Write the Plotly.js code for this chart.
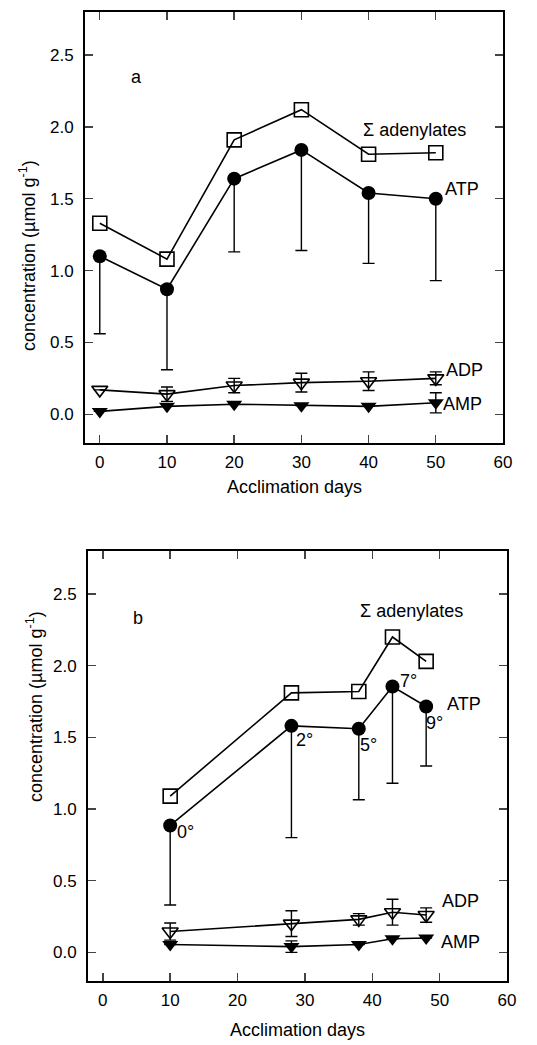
<!DOCTYPE html>
<html>
<head>
<meta charset="utf-8">
<script src="https://cdn.plot.ly/plotly-3.0.1.min.js"></script>
<style>html,body{margin:0;padding:0;background:#fff;}#chart{width:537px;height:1045px;}</style>
</head>
<body>
<div id="chart"></div>
<script>
// Panel a
const daysA = [0, 10, 20, 30, 40, 50];
const sumA = [1.33, 1.08, 1.91, 2.12, 1.81, 1.82];
const atpA = [1.10, 0.87, 1.64, 1.84, 1.54, 1.50];
const atpErrA = [0.54, 0.56, 0.51, 0.70, 0.49, 0.57];
const adpA = [0.17, 0.14, 0.20, 0.22, 0.23, 0.25];
const adpErrA = [0, 0.05, 0.05, 0.065, 0.065, 0.045];
const ampA = [0.02, 0.055, 0.07, 0.06, 0.055, 0.08];
const ampErrA = [0, 0, 0, 0, 0, 0.07];

// Panel b
const daysB = [10, 28, 38, 43, 48];
const sumB = [1.09, 1.81, 1.82, 2.20, 2.03];
const atpB = [0.885, 1.58, 1.56, 1.855, 1.715];
const atpErrB = [0.555, 0.78, 0.495, 0.675, 0.415];
const adpB = [0.145, 0.20, 0.23, 0.28, 0.26];
const adpErrB = [0.06, 0.09, 0.04, 0.09, 0.05];
const ampB = [0.055, 0.04, 0.055, 0.095, 0.10];
const ampErrB = [0, 0.04, 0, 0, 0];
const tempLabels = ['0°', '2°', '5°', '7°', '9°'];

const xTicks = [0, 10, 20, 30, 40, 50, 60];
const yTicks = [0.0, 0.5, 1.0, 1.5, 2.0, 2.5];

const lineStyle = {color: '#000', width: 1.6};

function series(x, sum, atp, atpErr, adp, adpErr, amp, ampErr, xa, ya) {
  return [
    {x: x, y: sum, xaxis: xa, yaxis: ya, mode: 'lines+markers', line: lineStyle,
     marker: {symbol: 'square-open', size: 14, color: '#000', line: {width: 1.6}}},
    {x: x, y: atp, xaxis: xa, yaxis: ya, mode: 'lines+markers', line: lineStyle,
     marker: {symbol: 'circle', size: 14, color: '#000'},
     error_y: {type: 'data', symmetric: false, array: x.map(() => 0), arrayminus: atpErr,
               color: '#000', thickness: 1.4, width: 6}},
    {x: x, y: adp, xaxis: xa, yaxis: ya, mode: 'lines+markers', line: lineStyle,
     marker: {symbol: 'triangle-down-open', size: 14, color: '#000', line: {width: 1.6}},
     error_y: {type: 'data', array: adpErr, color: '#000', thickness: 1.4, width: 6}},
    {x: x, y: amp, xaxis: xa, yaxis: ya, mode: 'lines+markers', line: lineStyle,
     marker: {symbol: 'triangle-down', size: 14, color: '#000'},
     error_y: {type: 'data', array: ampErr, color: '#000', thickness: 1.4, width: 6}}
  ];
}

const data = [
  ...series(daysA, sumA, atpA, atpErrA, adpA, adpErrA, ampA, ampErrA, 'x', 'y'),
  ...series(daysB, sumB, atpB, atpErrB, adpB, adpErrB, ampB, ampErrB, 'x2', 'y2')
];

const font = {family: 'Liberation Sans, Arial, sans-serif', size: 17, color: '#000'};

function xax(domain, anchor) {
  return {domain: domain, anchor: anchor, range: [-2.2, 60], tickvals: xTicks,
          ticktext: xTicks.map(String), ticks: 'inside', ticklen: 8, tickwidth: 1.4,
          showline: true, linewidth: 2, linecolor: '#000', mirror: 'ticks',
          showgrid: false, zeroline: false, tickfont: font, ticklabelstandoff: 3, fixedrange: true};
}
function yax(domain, anchor) {
  return {domain: domain, anchor: anchor, range: [-0.2, 2.8], tickvals: yTicks,
          ticktext: yTicks.map(v => v.toFixed(1)), ticks: 'inside', ticklen: 8, tickwidth: 1.4,
          showline: true, linewidth: 2, linecolor: '#000', mirror: 'ticks',
          showgrid: false, zeroline: false, tickfont: font, ticklabelstandoff: 6, fixedrange: true};
}

const lf = {family: 'Liberation Sans, Arial, sans-serif', size: 18, color: '#000'};
function ann(text, x, y, xref, yref, extra) {
  return Object.assign({text: text, x: x, y: y, xref: xref, yref: yref, showarrow: false, font: lf,
                        xanchor: 'center', yanchor: 'middle'}, extra || {});
}

const annotations = [
  ann('a', 5.5, 2.35, 'x', 'y'),
  ann('Σ adenylates', 46.9, 1.98, 'x', 'y'),
  ann('ATP', 53.9, 1.57, 'x', 'y'),
  ann('ADP', 54.3, 0.31, 'x', 'y'),
  ann('AMP', 54.0, 0.07, 'x', 'y'),
  ann('b', 5.2, 2.33, 'x2', 'y2'),
  ann('Σ adenylates', 45.8, 2.38, 'x2', 'y2'),
  ann('ATP', 53.6, 1.73, 'x2', 'y2'),
  ann('ADP', 53.1, 0.36, 'x2', 'y2'),
  ann('AMP', 53.1, 0.07, 'x2', 'y2'),
  ann('Acclimation days', (85+503)/2/537, 1 - 487/1045, 'paper', 'paper'),
  ann('Acclimation days', (88+507)/2/537, 1 - 1030/1045, 'paper', 'paper'),
  ann('concentration (µmol g<sup>-1</sup>)', 27/537, 1 - 256/1045, 'paper', 'paper', {textangle: -90}),
  ann('concentration (µmol g<sup>-1</sup>)', 34/537, 1 - 707/1045, 'paper', 'paper', {textangle: -90})
];
const tempPos = [[12.3, 0.84], [30.0, 1.48], [39.5, 1.45], [45.4, 1.89], [49.3, 1.60]];
tempLabels.forEach((t, i) => annotations.push(ann(t, tempPos[i][0], tempPos[i][1], 'x2', 'y2')));

const layout = {
  width: 537, height: 1045,
  margin: {l: 0, r: 0, t: 0, b: 0},
  paper_bgcolor: '#fff', plot_bgcolor: '#fff',
  showlegend: false,
  font: font,
  xaxis: xax([85/537, 503/537], 'y'),
  yaxis: yax([1 - 443/1045, 1 - 12/1045], 'x'),
  xaxis2: xax([88/537, 507/537], 'y2'),
  yaxis2: yax([1 - 981/1045, 1 - 551/1045], 'x2'),
  annotations: annotations
};

Plotly.newPlot('chart', data, layout, {staticPlot: true, displayModeBar: false});
</script>
</body>
</html>
